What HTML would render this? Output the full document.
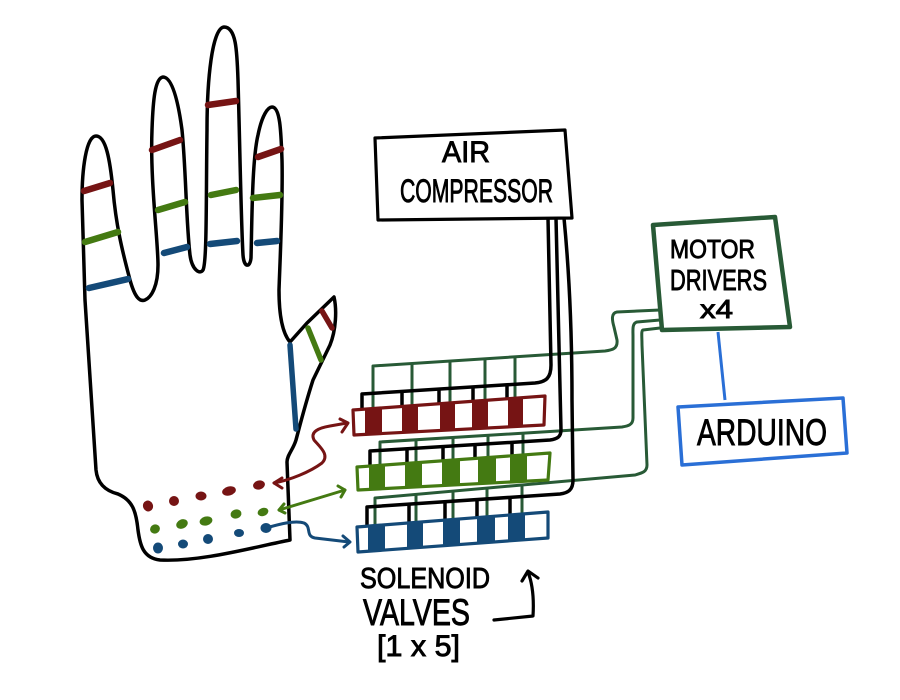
<!DOCTYPE html>
<html><head><meta charset="utf-8"><style>
html,body{margin:0;padding:0;background:#fff;}
svg{display:block;}
text{font-family:"Liberation Sans",sans-serif;fill:#000;stroke:#000;stroke-width:0.9;}
</style></head><body>
<svg width="900" height="700" viewBox="0 0 900 700" xmlns="http://www.w3.org/2000/svg">
<rect width="900" height="700" fill="#fff" stroke="none"/>
<!-- hand outline -->
<path d="M96 136 C106 136 110 160 113 190 C116 225 122 250 130 280 C135 298 140 302 145 300 C152 297 158 285 158 265 C158 240 150 180 152 130 C153 100 155 78 163 77 C172 77 178 100 182 130 C186 170 186 220 190 255 C192 270 200 275 203 270 C207 262 206 200 207 130 C207 80 212 28 224 27 C236 27 237 50 238 80 C240 150 241 220 243 255 C244 268 250 268 251 258 C252 220 252 160 258 135 C262 115 268 107 272 107 C280 107 281 130 282 160 C283 200 280 260 279 290 C279 320 284 335 290 342 L307 323 L334 297 C337 310 336 330 330 345 L313 380 C305 405 300 425 296 440 C293 450 287 455 287 462 L290 540 C250 548 200 562 160 560 C143 558 140 545 138 530 C136 510 132 500 118 494 C102 490 97 480 96 470 L85 300 L82 200 C82 170 86 136 96 136 Z" fill="none" stroke="#000" stroke-width="3.5" stroke-linejoin="round"/>
<!-- finger bands -->
<g stroke-linecap="round" stroke-width="6.5" fill="none">
<line x1="84" y1="191" x2="110" y2="183" stroke="#761414"/>
<line x1="85" y1="242" x2="118" y2="232" stroke="#447a12"/>
<line x1="89" y1="288" x2="128" y2="279" stroke="#144a78"/>
<line x1="152" y1="150" x2="180" y2="140" stroke="#761414"/>
<line x1="158" y1="210" x2="185" y2="202" stroke="#447a12"/>
<line x1="164" y1="253" x2="187" y2="247" stroke="#144a78"/>
<line x1="208" y1="105" x2="236" y2="101" stroke="#761414"/>
<line x1="211" y1="195" x2="236" y2="190" stroke="#447a12"/>
<line x1="210" y1="244" x2="237" y2="241" stroke="#144a78"/>
<line x1="258" y1="157" x2="281" y2="149" stroke="#761414"/>
<line x1="253" y1="198" x2="280" y2="195" stroke="#447a12"/>
<line x1="257" y1="243" x2="277" y2="241" stroke="#144a78"/>
<line x1="322" y1="311" x2="332" y2="328" stroke="#761414" stroke-width="5.5"/>
<line x1="308" y1="328" x2="321" y2="360" stroke="#447a12" stroke-width="5.5"/>
<line x1="290" y1="345" x2="296" y2="429" stroke="#144a78" stroke-width="5.5"/>
</g>
<!-- dots -->
<g stroke="none">
<g fill="#761414">
<ellipse cx="148" cy="506" rx="5" ry="5.5" transform="rotate(-20 148 506)"/>
<ellipse cx="174" cy="501" rx="5" ry="5"/>
<ellipse cx="201" cy="496" rx="5.5" ry="4.5"/>
<ellipse cx="229" cy="491" rx="7" ry="4.5" transform="rotate(-15 229 491)"/>
<ellipse cx="259" cy="485" rx="6" ry="4.5" transform="rotate(-15 259 485)"/>
</g>
<g fill="#447a12">
<ellipse cx="155" cy="529" rx="5" ry="4.5" transform="rotate(-25 155 529)"/>
<ellipse cx="182" cy="524" rx="6" ry="4.5" transform="rotate(-25 182 524)"/>
<ellipse cx="206" cy="521" rx="6.5" ry="4.5" transform="rotate(-15 206 521)"/>
<ellipse cx="236" cy="514" rx="5.5" ry="4.5" transform="rotate(-15 236 514)"/>
<ellipse cx="263" cy="512" rx="5.5" ry="4" transform="rotate(-20 263 512)"/>
</g>
<g fill="#144a78">
<ellipse cx="158" cy="548" rx="5" ry="5.5"/>
<ellipse cx="183" cy="544" rx="5" ry="4.5"/>
<ellipse cx="208" cy="539" rx="5" ry="5"/>
<ellipse cx="239" cy="533" rx="5" ry="4"/>
<ellipse cx="266" cy="528" rx="5.5" ry="5"/>
</g>
</g>
<!-- arrows hand -> valves -->
<g fill="none" stroke-width="3" stroke-linecap="round" stroke-linejoin="round">
<path d="M274 483 C290 480 310 472 322 463 C330 455 320 447 314 440 C310 432 318 428 330 426 L347 423" stroke="#761414"/>
<path d="M282 478 L274 483 L282 488 M340 419 L348 423 L342 432" stroke="#761414"/>
<path d="M279 510 L345 490" stroke="#447a12"/>
<path d="M284 504 L279 510 L285 513 M338 486 L345 490 L341 497" stroke="#447a12"/>
<path d="M266 528 C280 524 295 520 304 523 C312 527 305 536 315 538 L349 542" stroke="#144a78"/>
<path d="M343 536 L350 542 L344 547" stroke="#144a78"/>
</g>
<!-- Air compressor -->
<polygon points="375,138 565,130 572,218 378,220" fill="none" stroke="#000" stroke-width="3.2" stroke-linejoin="round"/>
<text x="442" y="162" font-size="30" textLength="48" lengthAdjust="spacingAndGlyphs">AIR</text>
<text x="400" y="202" font-size="32" textLength="153" lengthAdjust="spacingAndGlyphs">COMPRESSOR</text>
<!-- green wires from motor drivers -->
<g fill="none" stroke="#285a36" stroke-width="3" stroke-linejoin="round">
<path d="M660 310 L617 312 C611 313 612 320 614 327 L617 340 C618 349 612 350 605 351 L373 366 L373 408"/>
<path d="M660 320 L637 322 C632 323 633 330 633 336 L633 418 C633 425 628 426 622 427 L380 442 L380 465"/>
<path d="M660 328 L643 330 C641 331 642 336 642 345 L647 465 C647 472 642 473 635 475 L375 498 L375 525"/>
<line x1="412" y1="363" x2="412" y2="406"/>
<line x1="450" y1="361" x2="450" y2="403"/>
<line x1="485" y1="358" x2="485" y2="400"/>
<line x1="515" y1="356" x2="515" y2="398"/>
<line x1="416" y1="440" x2="416" y2="463"/>
<line x1="453" y1="437" x2="453" y2="460"/>
<line x1="488" y1="435" x2="488" y2="457"/>
<line x1="523" y1="433" x2="523" y2="455"/>
<line x1="416" y1="494" x2="416" y2="522"/>
<line x1="453" y1="491" x2="453" y2="519"/>
<line x1="487" y1="488" x2="487" y2="517"/>
<line x1="522" y1="485" x2="522" y2="514"/>
</g>
<!-- black air pipes -->
<g fill="none" stroke="#000" stroke-width="3.5" stroke-linejoin="round">
<path d="M548 218 L551 365 C551 378 546 382 535 383 L362 394 L362 409"/>
<path d="M556 218 L561 430 C561 437 557 439 550 440 L370 451 L370 466"/>
<path d="M564 218 C570 280 572 340 572 400 L573 480 C573 490 568 493 560 494 L367 507 L367 526"/>
<line x1="402" y1="391" x2="402" y2="406"/>
<line x1="439" y1="389" x2="439" y2="404"/>
<line x1="473" y1="387" x2="473" y2="401"/>
<line x1="507" y1="385" x2="507" y2="399"/>
<line x1="407" y1="449" x2="407" y2="463"/>
<line x1="443" y1="446" x2="443" y2="461"/>
<line x1="475" y1="445" x2="475" y2="458"/>
<line x1="512" y1="442" x2="512" y2="456"/>
<line x1="409" y1="504" x2="409" y2="523"/>
<line x1="445" y1="502" x2="445" y2="520"/>
<line x1="477" y1="500" x2="477" y2="518"/>
<line x1="510" y1="497" x2="510" y2="515"/>
</g>
<!-- valve bars -->
<g stroke="none" fill="#761414">
<polygon points="365,409 382,408 382,434 365,434"/>
<polygon points="402,406 418,405 418,432 402,432"/>
<polygon points="440,404 455,403 455,430 440,430"/>
<polygon points="472,401 488,400 488,428 472,429"/>
<polygon points="508,399 523,398 523,426 508,427"/>
</g>
<polygon points="353,410 545,396 544,425 354,435" fill="none" stroke="#761414" stroke-width="3.2" stroke-linejoin="round"/>
<g stroke="none" fill="#447a12">
<polygon points="369,466 385,465 385,489 369,489"/>
<polygon points="405,464 422,462 422,487 405,488"/>
<polygon points="442,461 460,460 460,485 442,486"/>
<polygon points="478,458 496,457 496,483 478,484"/>
<polygon points="510,456 527,455 527,481 510,482"/>
</g>
<polygon points="357,467 550,453 548,480 358,490" fill="none" stroke="#447a12" stroke-width="3.2" stroke-linejoin="round"/>
<g stroke="none" fill="#144a78">
<polygon points="368,526 385,525 385,550 368,551"/>
<polygon points="407,523 423,522 423,547 407,548"/>
<polygon points="443,520 460,519 460,544 443,546"/>
<polygon points="477,518 495,516 495,542 477,543"/>
<polygon points="508,515 525,514 525,540 508,541"/>
</g>
<polygon points="357,527 548,512 548,538 358,552" fill="none" stroke="#144a78" stroke-width="3.2" stroke-linejoin="round"/>
<!-- Motor drivers -->
<polygon points="653,225 775,217 790,327 662,330" fill="none" stroke="#285a36" stroke-width="4.5" stroke-linejoin="round"/>
<text x="670" y="258" font-size="26" textLength="85" lengthAdjust="spacingAndGlyphs">MOTOR</text>
<text x="670" y="290" font-size="29" textLength="97" lengthAdjust="spacingAndGlyphs">DRIVERS</text>
<text x="700" y="318" font-size="26" textLength="33" lengthAdjust="spacingAndGlyphs" stroke-width="0.4">x4</text>
<!-- Arduino -->
<line x1="718" y1="332" x2="725" y2="400" stroke="#2a6fd6" stroke-width="3"/>
<polygon points="678,407 843,398 847,453 682,465" fill="#fff" stroke="#2a6fd6" stroke-width="3.5" stroke-linejoin="round"/>
<text x="697" y="445" font-size="37" textLength="130" lengthAdjust="spacingAndGlyphs">ARDUINO</text>
<!-- labels -->
<text x="360" y="588" font-size="29" textLength="130" lengthAdjust="spacingAndGlyphs">SOLENOID</text>
<text x="363" y="625" font-size="37" textLength="107" lengthAdjust="spacingAndGlyphs">VALVES</text>
<text x="377" y="656" font-size="30" textLength="83" lengthAdjust="spacingAndGlyphs" stroke-width="0.5">[1 x 5]</text>
<g fill="none" stroke="#000" stroke-width="3.2" stroke-linecap="round" stroke-linejoin="round">
<path d="M494 620 L533 616 C534 600 533 585 528 572"/>
<path d="M522 581 L528 571 L538 578"/>
</g>
</svg>
</body></html>
